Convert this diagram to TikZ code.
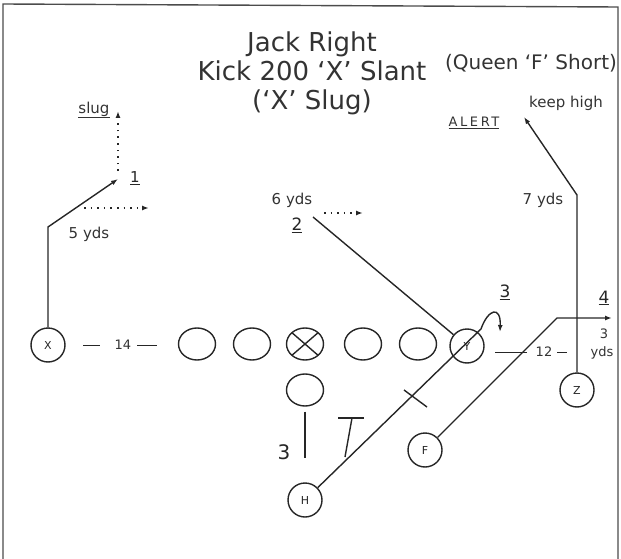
\documentclass[tikz,border=0pt]{standalone}
\usepackage{fontspec}
\setmainfont{DejaVu Sans}
\usetikzlibrary{arrows.meta,shapes.geometric}

\begin{document}
\begin{tikzpicture}[
  x=1pt, y=-1pt,
  % ---- players -----------------------------------------------------------
  ink/.style={draw=black!85, line width=1.4pt},
  player/.style={circle, ink, minimum size=34pt, inner sep=0pt,
    text=black!85, font=\fontsize{11}{11}\selectfont},
  lineman/.style={ellipse, ink, minimum width=37pt, minimum height=32pt, inner sep=0pt},
  snapper/.style={lineman, path picture={
    \draw[black!85, line width=1.4pt]
      (path picture bounding box.north west) -- (path picture bounding box.south east)
      (path picture bounding box.south west) -- (path picture bounding box.north east);}},
  % ---- texts -------------------------------------------------------------
  playname/.style={align=center, text=black!80, font=\fontsize{26}{29}\selectfont},
  lbl/.style={inner sep=1pt, text=black!80, font=\fontsize{15}{15}\selectfont},
  small/.style={inner sep=1pt, text=black!80, font=\fontsize{13}{13}\selectfont},
  num/.style={inner sep=1pt, text=black!85, font=\fontsize{17}{17}\selectfont},
  % ---- routes ------------------------------------------------------------
  route/.style={ink, -{Latex[length=7pt,width=5pt]}},
  opt/.style={ink, dash pattern=on 1.6pt off 5pt, -{Latex[length=7pt,width=5pt]}},
]
\useasboundingbox (0,0) rectangle (621,559);

% ---- frame ----------------------------------------------------------------
\draw[draw=black!70, line width=1.4pt] (3,559) -- (3,4) -- (618,7) -- (618,559);

% ---- headings -------------------------------------------------------------
\node[playname] (play) at (312,73) {Jack Right\\Kick 200 `X' Slant\\(`X' Slug)};
\node[inner sep=0pt, text=black!80, font=\fontsize{20}{20}\selectfont] (adj) at (531,63)
  {(Queen `F' Short)};

% ---- formation ------------------------------------------------------------
\node[player] (X) at (48,345) {X};
\node[lineman] (lt) at (197,344) {};
\node[lineman] (lg) at (252,344) {};
\node[snapper] (ctr) at (305,344) {};
\node[lineman] (rg) at (363,344) {};
\node[lineman] (rt) at (418,344) {};
\node[player] (Y) at (467,346) {Y};
\node[lineman] (qb) at (305,390) {};
\node[player] (H) at (305,500) {H};
\node[player] (F) at (425,450) {F};
\node[player] (Z) at (577,390) {Z};

% splits
\draw[ink, line width=1pt] (83,345) -- (100,345);
\node[small] (split14) at (123,345) {14};
\draw[ink, line width=1pt] (137,345) -- (157,345);
\draw[ink, line width=1pt] (495,352) -- (527,352);
\node[small] (split12) at (544,352) {12};
\draw[ink, line width=1pt] (557,352) -- (567,352);

% qb depth
\coordinate (qbend) at (305,458);
\draw[ink, shorten <=5pt] (qb) -- (qbend);
\node[num, font=\fontsize{20}{20}\selectfont] (depth) at (284,452) {3};

% ---- 1: X slant, slug ------------------------------------------------------
\coordinate (xbreak) at (48,227);
\coordinate (xtip) at (118,179);
\coordinate (slugtip) at (118,111);
\coordinate (o1a) at (84,208);
\coordinate (o1b) at (149,208);
\draw[route] (X) -- (xbreak) -- (xtip);
\draw[opt] ([yshift=8pt]xtip) -- (slugtip);
\draw[opt] (o1a) -- (o1b);
\node[lbl] (slug) at (94,110) {\underline{slug}};
\node[num, font=\fontsize{15}{15}\selectfont] (n1) at (135,178) {\underline{1}};
\node[lbl] (x5) at (89,234) {5 yds};

% ---- 2: Y at 6 yds --------------------------------------------------------
\coordinate (r2top) at (313,217);
\coordinate (o2a) at (324,213);
\coordinate (o2b) at (363,213);
\draw[ink] (r2top) -- (Y);
\draw[opt] (o2a) -- (o2b);
\node[lbl] (y6) at (292,200) {6 yds};
\node[num] (n2) at (297,225) {\underline{2}};

% ---- 3: H through the line, curl ------------------------------------------
\coordinate (hcurl) at (481,329);
\coordinate (htip) at (500,332);
\draw[route] (H) -- (hcurl) .. controls (488,309) and (501,305) .. (htip);
\node[num] (n3) at (505,292) {\underline{3}};
\draw[ink] (404,390) -- (427,407);
\draw[ink] (338,418) -- (364,418);
\draw[ink] (352,418) -- (345,457);

% ---- 4: F out at 3 yds -----------------------------------------------------
\coordinate (fbreak) at (557,318);
\coordinate (ftip) at (612,318);
\draw[route] (F) -- (fbreak) -- (ftip);
\node[num] (n4) at (604,298) {\underline{4}};
\node[small] (f3) at (604,334) {3};
\node[small] (fyds) at (602,353) {yds};

% ---- Z post, keep high -----------------------------------------------------
\coordinate (zbreak) at (577,195);
\coordinate (ztip) at (524,117);
\draw[route] (Z) -- (zbreak) -- (ztip);
\node[lbl] (z7) at (543,200) {7 yds};
\node[lbl] (keep) at (566,103) {keep high};
\node[small, font=\fontsize{13}{13}\selectfont\addfontfeature{LetterSpace=20}] (alert) at (474,123)
  {\underline{ALERT}};

\end{tikzpicture}
\end{document}
